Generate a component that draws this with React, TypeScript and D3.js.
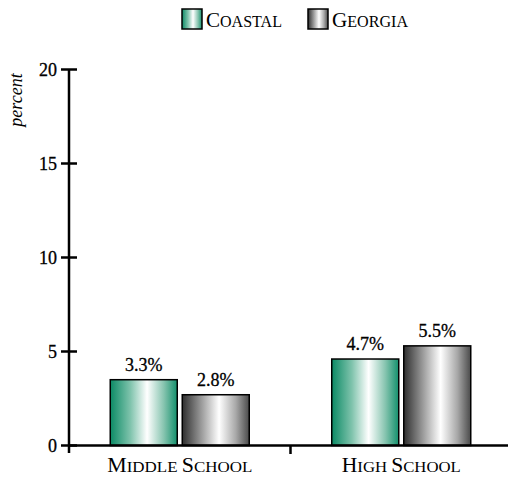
import React from "react";
import * as d3 from "d3";

const categories = ["Middle School", "High School"];
const seriesNames = ["Coastal", "Georgia"];
// bar heights as drawn in the picture
const coastalValues = [3.5, 4.6];
const georgiaValues = [2.7, 5.3];
// printed value labels
const coastalLabels = ["3.3%", "4.7%"];
const georgiaLabels = ["2.8%", "5.5%"];
const yTicks = [0, 5, 10, 15, 20];

const W = 508;
const H = 477;
const FONT = "'Liberation Serif', 'DejaVu Serif', serif";

function SmallCaps({ text, big, small }: { text: string; big: number; small: number }) {
  const words = text.split(" ");
  const parts: React.ReactNode[] = [];
  words.forEach((w, i) => {
    if (i > 0) parts.push(<tspan key={`s${i}`} fontSize={small}>{" "}</tspan>);
    parts.push(
      <tspan key={`b${i}`} fontSize={big}>
        {w[0].toUpperCase()}
      </tspan>
    );
    parts.push(
      <tspan key={`r${i}`} fontSize={small}>
        {w.slice(1).toUpperCase()}
      </tspan>
    );
  });
  return <>{parts}</>;
}

export default function App() {
  const x0 = 69;
  const yScale = d3.scaleLinear().domain([0, 20]).range([445.5, 69.5]);
  const xBand = d3.scaleBand<string>().domain(categories).range([x0, 512]);
  const barW = 67;
  const gap = 5;
  const groupW = barW * 2 + gap;
  const xSub = (name: string) => seriesNames.indexOf(name) * (barW + gap);

  const series = [
    { name: "Coastal", values: coastalValues, labels: coastalLabels, grad: "gCoastal" },
    { name: "Georgia", values: georgiaValues, labels: georgiaLabels, grad: "gGeorgia" },
  ];

  const legendX = [182, 308];
  const legendTextLen = [76, 76];
  const catTextLen = [145, 119];

  return (
    <svg width={W} height={H} style={{ position: "absolute", left: 0, top: 0 }}>
      <defs>
        <linearGradient id="gCoastal" x1="0" x2="1" y1="0" y2="0">
          <stop offset="0" stopColor="#0b8a65" />
          <stop offset="0.3" stopColor="#7fc3ac" />
          <stop offset="0.55" stopColor="#ffffff" />
          <stop offset="0.8" stopColor="#86c4af" />
          <stop offset="1" stopColor="#13906c" />
        </linearGradient>
        <linearGradient id="gGeorgia" x1="0" x2="1" y1="0" y2="0">
          <stop offset="0" stopColor="#2e2e2e" />
          <stop offset="0.3" stopColor="#a0a0a0" />
          <stop offset="0.55" stopColor="#ffffff" />
          <stop offset="0.8" stopColor="#a8a8a8" />
          <stop offset="1" stopColor="#4a4a4a" />
        </linearGradient>
      </defs>

      {/* legend */}
      {series.map((s, i) => {
        const lx = legendX[i];
        return (
          <g key={s.name}>
            <rect x={lx} y={9} width={20} height={20} fill={`url(#${s.grad})`} stroke="#000" strokeWidth={1.5} />
            <text
              x={lx + 24}
              y={27}
              fontFamily={FONT}
              fill="#000"
              textLength={legendTextLen[i]}
              lengthAdjust="spacingAndGlyphs"
            >
              <SmallCaps text={s.name} big={21} small={16} />
            </text>
          </g>
        );
      })}

      {/* y label */}
      <text
        transform="translate(22,100) rotate(-90)"
        textAnchor="middle"
        fontFamily={FONT}
        fontStyle="italic"
        fontSize={18}
      >
        percent
      </text>

      {/* bars */}
      {categories.map((c, ci) => {
        const bx = (xBand(c) as number) + (xBand.bandwidth() - groupW) / 2;
        return (
          <g key={c}>
            {series.map((s) => {
              const x = bx + xSub(s.name);
              const yTop = yScale(s.values[ci]);
              return (
                <g key={s.name}>
                  <rect
                    x={x}
                    y={yTop}
                    width={barW}
                    height={yScale(0) - yTop}
                    fill={`url(#${s.grad})`}
                    stroke="#000"
                    strokeWidth={1.5}
                  />
                  <text
                    x={x + barW / 2}
                    y={yTop - 9}
                    textAnchor="middle"
                    fontFamily={FONT}
                    fontSize={18}
                    stroke="#000"
                    strokeWidth={0.3}
                  >
                    {s.labels[ci]}
                  </text>
                </g>
              );
            })}
            <text
              x={(xBand(c) as number) + xBand.bandwidth() / 2 - catTextLen[ci] / 2}
              y={472}
              fontFamily={FONT}
              textLength={catTextLen[ci]}
              lengthAdjust="spacingAndGlyphs"
            >
              <SmallCaps text={c} big={20} small={15.5} />
            </text>
          </g>
        );
      })}

      {/* axes */}
      <line x1={x0} x2={W} y1={yScale(0)} y2={yScale(0)} stroke="#000" strokeWidth={2.5} />
      <line x1={x0} x2={x0} y1={yScale(20)} y2={453} stroke="#000" strokeWidth={2.5} />
      {yTicks.map((t) => (
        <g key={t}>
          <line x1={61} x2={77} y1={yScale(t)} y2={yScale(t)} stroke="#000" strokeWidth={2.5} />
          <text
            x={57}
            y={yScale(t) + 6}
            textAnchor="end"
            fontFamily={FONT}
            fontSize={18}
            stroke="#000"
            strokeWidth={0.3}
          >
            {t}
          </text>
        </g>
      ))}
      {categories.slice(1).map((c) => (
        <line
          key={c}
          x1={xBand(c) as number}
          x2={xBand(c) as number}
          y1={yScale(0)}
          y2={454}
          stroke="#000"
          strokeWidth={2.5}
        />
      ))}
    </svg>
  );
}
